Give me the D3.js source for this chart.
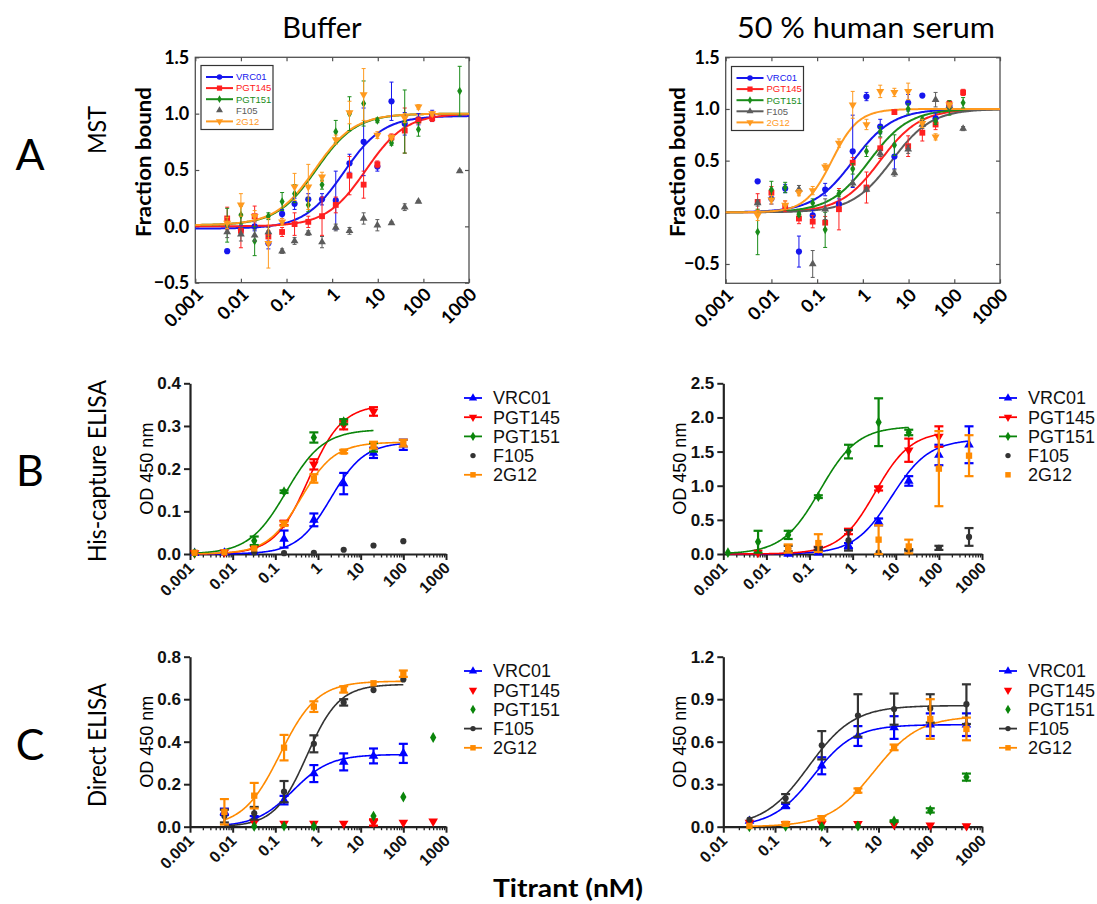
<!DOCTYPE html>
<html lang="en">
<head>
<meta charset="UTF-8">
<title>Env trimer binding - MST and ELISA</title>
<script src="https://d3js.org/d3.v7.min.js"></script>
<style>
  body { margin: 0; background: #fff; }
  svg { display: block; }
</style>
</head>
<body>
<div class="main"></div>
<script>
  // series order used by every panel
  const antibodies = ["VRC01", "PGT145", "PGT151", "F105", "2G12"];

  // ---- A: MST, 2-fold titration (nM) ----
  const mstConc = [0.005, 0.01, 0.02, 0.04, 0.08, 0.15, 0.3, 0.6, 1.2, 2.4, 4.9, 9.8, 20, 39, 78, 156, 313, 625];

  const mstBufMean = [
    [-0.22, -0.03, 0.0, -0.15, 0.11, 0.20, 0.24, 0.24, 0.23, 0.56, 0.75, 0.53, 1.11, 0.91, 0.95, 0.98, null, null],
    [0.07, -0.04, 0.09, -0.09, -0.05, 0.02, 0.04, 0.09, 0.19, 0.45, 0.37, 0.55, 0.79, 0.85, 0.94, 0.96, null, null],
    [0.01, 0.10, -0.13, 0.09, 0.22, 0.29, 0.19, 0.37, 0.84, 1.0, 1.09, 0.94, 0.74, 0.93, 0.86, null, null, 1.2],
    [-0.05, -0.07, -0.08, -0.05, -0.22, -0.13, -0.06, -0.14, -0.01, -0.04, 0.07, 0.01, 0.03, 0.17, 0.22, null, null, 0.49],
    [0.03, 0.19, 0.09, -0.15, 0.04, 0.35, 0.35, 0.44, 0.77, 1.01, 1.17, 0.81, 0.79, 0.96, 1.06, 1.0, null, null]
  ];
  const mstBufErr = [
    [0, 0.04, 0.04, 0.05, 0.04, 0.05, 0.05, 0.05, 0.26, 0.08, 0.3, 0.04, 0.17, 0.1, 0.05, 0.05, null, null],
    [0.1, 0.15, 0.09, 0.05, 0.04, 0.1, 0.05, 0.17, 0.07, 0.17, 0.12, 0.03, 0.03, 0.2, 0.03, 0.03, null, null],
    [0.15, 0.08, 0.13, 0.03, 0.08, 0.08, 0.06, 0.04, 0.1, 0.15, 0.2, 0.02, 0.02, 0.28, 0.06, null, null, 0.22],
    [0.05, 0.06, 0.05, 0.04, 0.02, 0.03, 0.02, 0.05, 0.03, 0.03, 0.05, 0.05, 0.01, 0.03, 0.01, null, null, 0.01],
    [0.05, 0.1, 0.05, 0.22, 0.03, 0.12, 0.2, 0.04, 0.04, 0.1, 0.23, 0.03, 0.02, 0.04, 0.02, 0.02, null, null]
  ];
  // fit: [bottom, top, EC50 nM, hill]
  const mstBufFit = [[-0.02, 0.98, 1.8, 1.0], [0, 1.0, 5.5, 1.0], [0.01, 1.0, 0.45, 1.0], null, [0.01, 1.0, 0.42, 1.0]];

  const mstSerMean = [
    [0.30, 0.13, 0.23, -0.38, -0.03, 0.22, 0.08, 0.59, 1.12, 0.83, 0.54, 1.06, 1.13, 0.91, 1.03, null],
    [0.10, 0.19, 0.06, -0.06, -0.09, -0.10, 0.03, 0.48, 0.24, 0.62, 0.97, 0.64, 0.77, 0.85, 1.05, 1.16],
    [-0.19, 0.22, 0.24, -0.02, 0.09, -0.17, 0.18, 0.42, 0.59, 0.78, 0.65, 1.0, 0.9, 0.88, 1.01, 1.06],
    [0.09, null, null, 0.22, -0.5, 0.03, null, 0.28, 0.22, 0.57, 0.38, 0.61, 0.85, 1.09, 1.03, 0.81],
    [-0.03, 0.12, 0.07, 0.19, 0.21, 0.44, 0.67, 1.04, 0.85, 1.17, 1.16, 1.17, 0.86, 0.73, 1.04, null]
  ];
  const mstSerErr = [
    [0, 0.05, 0.04, 0.15, 0.05, 0.06, 0.05, 0.35, 0.04, 0.07, 0.12, 0.08, 0, 0.05, 0.02, null],
    [0.08, 0.06, 0.05, 0.05, 0.06, 0.06, 0.2, 0.05, 0.15, 0.1, 0.01, 0.1, 0.08, 0.05, 0.03, 0.03],
    [0.22, 0.08, 0.05, 0.02, 0.04, 0.17, 0.03, 0.05, 0.05, 0.05, 0.1, 0.05, 0.03, 0.03, 0.07, 0.05],
    [0.03, null, null, 0.04, 0.13, 0.1, null, 0.03, 0.02, 0.03, 0.03, 0.04, 0.04, 0.07, 0.03, 0.02],
    [0.05, 0.04, 0.04, 0.03, 0.04, 0.03, 0.04, 0.13, 0.05, 0.06, 0.04, 0.08, 0.04, 0.03, 0.02, null]
  ];
  const mstSerFit = [[0, 1.0, 0.62, 1.0], [0, 1.0, 2.4, 1.0], [0, 1.0, 1.4, 1.0], [0, 1.0, 4.3, 1.0], [0, 1.0, 0.21, 1.5]];

  const mstXTicks = [0.001, 0.01, 0.1, 1, 10, 100, 1000];
  const mstYTicks = [-0.5, 0.0, 0.5, 1.0, 1.5];

  // ---- B: His-capture ELISA, 5-fold titration (nM) ----
  const hisBufConc = [0.00128, 0.0064, 0.032, 0.16, 0.8, 4, 20, 100];
  const hisBufMean = [
    [0.002, 0.003, 0.005, 0.035, 0.08, 0.165, 0.237, 0.256],
    [0.002, 0.004, 0.013, 0.073, 0.21, 0.302, 0.334, null],
    [0.002, null, 0.031, 0.146, 0.273, 0.31, 0.25, null],
    [null, null, 0.004, 0.002, 0.003, 0.01, 0.02, 0.03],
    [0.003, 0.004, 0.013, 0.071, 0.177, 0.24, 0.255, 0.26]
  ];
  const hisBufErr = [
    [0, 0, 0, 0.02, 0.015, 0.025, 0.012, 0.012],
    [0, 0, 0, 0.005, 0.012, 0.01, 0.01, null],
    [0, null, 0.01, 0.003, 0.012, 0.006, 0.01, null],
    [null, null, 0, 0, 0, 0, 0, 0],
    [0, 0, 0, 0.005, 0.01, 0.004, 0.008, 0.008]
  ];
  const hisBufFit = [[0, 0.262, 2.0, 1.1], [0, 0.35, 0.6, 1.1], [0, 0.292, 0.18, 1.0], null, [0, 0.262, 0.4, 1.1]];

  const hisSerConc = [0.00128, 0.0064, 0.032, 0.16, 0.8, 4, 20, 100, 500];
  const hisSerMean = [
    [null, null, 0.0, 0.02, 0.12, 0.47, 1.07, 1.45, 1.6],
    [null, 0.02, null, 0.08, 0.33, 0.96, 1.52, 1.72, null],
    [0.02, 0.18, 0.28, 0.84, 1.5, 1.93, 1.78, null, null],
    [null, null, 0.08, 0.08, 0.2, 0.02, 0.06, 0.09, 0.25],
    [null, null, 0.08, 0.16, null, 0.21, 0.11, 1.25, 1.44]
  ];
  const hisSerErr = [
    [null, null, 0, 0, 0.04, 0.05, 0.07, 0.15, 0.27],
    [null, 0, null, 0.02, 0.04, 0.03, 0.17, 0.15, null],
    [0, 0.16, 0.06, 0.02, 0.1, 0.35, 0.04, null, null],
    [null, null, 0.04, 0.02, 0.15, 0, 0.01, 0.03, 0.13],
    [null, null, 0.06, 0.13, null, 0.21, 0.1, 0.55, 0.3]
  ];
  const hisSerFit = [[0, 1.68, 8, 1.0], [0, 1.8, 3.3, 1.05], [0, 1.87, 0.175, 1.0], null, null];

  // ---- C: direct ELISA ----
  const dirBufConc = [0.0064, 0.032, 0.16, 0.8, 4, 20, 100, 500];
  const dirBufMean = [
    [0.07, 0.04, 0.125, 0.25, 0.305, 0.333, 0.345, null],
    [null, 0.02, 0.015, 0.015, 0.015, 0.02, 0.02, 0.025],
    [null, 0.002, 0.003, 0.002, null, 0.05, 0.14, 0.42],
    [0.05, 0.063, 0.165, 0.39, 0.585, 0.643, 0.693, null],
    [0.07, 0.146, 0.372, 0.565, 0.646, 0.675, 0.72, null]
  ];
  const dirBufErr = [
    [0.015, 0.01, 0.02, 0.04, 0.04, 0.035, 0.045, null],
    [null, 0, 0, 0, 0, 0.015, 0, 0],
    [null, 0, 0, 0, null, 0, 0, 0],
    [0.03, 0.03, 0.05, 0.04, 0.015, 0, 0, null],
    [0.06, 0.06, 0.06, 0.025, 0.015, 0, 0.015, null]
  ];
  const dirBufFit = [[0, 0.34, 0.26, 1.0], null, null, [0, 0.67, 0.55, 1.15], [0, 0.685, 0.13, 1.0]];

  const dirSerConc = [0.032, 0.16, 0.8, 4, 20, 100, 500];
  const dirSerMean = [
    [0.04, 0.146, 0.43, 0.64, 0.70, 0.72, 0.72],
    [0.03, 0.02, 0.02, 0.02, 0.015, 0.01, 0.005],
    [0.0, 0.002, 0.002, 0.005, 0.04, 0.115, 0.35],
    [0.05, 0.2, 0.575, 0.785, 0.83, 0.835, 0.865],
    [0.005, 0.02, 0.06, 0.255, 0.56, 0.76, 0.69]
  ];
  const dirSerErr = [
    [0, 0.015, 0.06, 0.07, 0.08, 0.08, 0.08],
    [0, 0, 0, 0, 0, 0, 0],
    [0, 0, 0, 0, 0.005, 0.015, 0.025],
    [0, 0.03, 0.1, 0.15, 0.11, 0.1, 0.14],
    [0, 0.01, 0.015, 0.015, 0.02, 0.14, 0.08]
  ];
  const dirSerFit = [[0, 0.72, 0.55, 1.1], null, null, [0, 0.855, 0.45, 1.0], [0, 0.78, 8.2, 1.0]];

  const elisaXTicks = [0.001, 0.01, 0.1, 1, 10, 100, 1000];
  const dirSerXTicks = [0.01, 0.1, 1, 10, 100, 1000];
  const hisBufYTicks = [0, 0.1, 0.2, 0.3, 0.4];
  const hisSerYTicks = [0, 0.5, 1.0, 1.5, 2.0, 2.5];
  const dirBufYTicks = [0, 0.2, 0.4, 0.6, 0.8];
  const dirSerYTicks = [0, 0.3, 0.6, 0.9, 1.2];

  // ---------------- drawing ----------------
  const svg = d3.select(".main").append("svg")
          .attr("width", 1097)
          .attr("height", 904);

  const mstColors = ["#1616ee", "#ff2020", "#1a8c1a", "#5c5c5c", "#ff9a1f"];
  const mstShapes = ["circle", "square", "diamond", "up", "down"];
  const mstSizes = [30, 34, 22, 26, 28];
  const elisaColors = ["#0000ff", "#ff0000", "#0a850a", "#333333", "#ff8a00"];
  const elisaShapes = ["up", "down", "diamond", "circle", "square"];
  const elisaSizes = [40, 40, 34, 30, 40];

  const symbolTypes = {circle: d3.symbolCircle, square: d3.symbolSquare, diamond: d3.symbolDiamond, up: d3.symbolTriangle, down: d3.symbolTriangle};

  function marker(g, shape, size, color, cx, cy) {
    g.append("path")
            .attr("d", d3.symbol().type(symbolTypes[shape]).size(size)())
            .attr("transform", "translate(" + cx + "," + cy + ")" + (shape == "down" ? " rotate(180)" : ""))
            .attr("fill", color);
  }

  function hill(f, c) {
    return f[0] + (f[1] - f[0]) / (1 + Math.pow(f[2] / c, f[3]));
  }

  function fitPath(x, y, f, lo, hi) {
    let pts = d3.range(0, 241).map(i => lo * Math.pow(hi / lo, i / 240));
    return d3.line().x(c => x(c)).y(c => y(hill(f, c)))(pts);
  }

  function errBar(g, x0, yLo, yHi, cap, color, sw) {
    g.append("line").attr("x1", x0).attr("x2", x0).attr("y1", yLo).attr("y2", yHi)
            .attr("stroke", color).attr("stroke-width", sw);
    [yLo, yHi].forEach(v => {
      g.append("line").attr("x1", x0 - cap / 2).attr("x2", x0 + cap / 2).attr("y1", v).attr("y2", v)
              .attr("stroke", color).attr("stroke-width", sw);
    });
  }

  const tickText = d => d >= 1 ? d3.format("d")(d) : String(d);

  // MST panel: boxed, inward ticks
  function drawMst(p) {
    let x = d3.scaleLog().domain([0.001, 1000]).range(p.xr);
    let y = d3.scaleLinear().domain(p.yd).range(p.yr);
    let g = svg.append("g");

    g.append("rect").attr("x", p.xr[0]).attr("y", p.yr[1])
            .attr("width", p.xr[1] - p.xr[0]).attr("height", p.yr[0] - p.yr[1])
            .attr("fill", "none").attr("stroke", "#505050").attr("stroke-width", 1.3);

    let axes = [
      [d3.axisBottom(x).tickValues(mstXTicks), "translate(0," + p.yr[0] + ")"],
      [d3.axisTop(x).tickValues(mstXTicks), "translate(0," + p.yr[1] + ")"],
      [d3.axisLeft(y).tickValues(mstYTicks), "translate(" + p.xr[0] + ",0)"],
      [d3.axisRight(y).tickValues(mstYTicks), "translate(" + p.xr[1] + ",0)"]
    ];
    axes.forEach(a => {
      let ag = g.append("g").attr("transform", a[1])
              .call(a[0].tickSizeInner(-4).tickSizeOuter(0).tickFormat(""));
      ag.select(".domain").remove();
      ag.selectAll("line").attr("stroke", "#505050").attr("stroke-width", 1.2);
    });

    g.selectAll(null).data(mstYTicks).join("text")
            .attr("x", p.xr[0] - 6).attr("y", d => y(d)).attr("dy", "0.36em")
            .attr("text-anchor", "end")
            .style("font-family", "Lato, 'DejaVu Sans', sans-serif").style("font-weight", "bold").style("font-size", "18px")
            .text(d => d3.format(".1f")(d));

    g.selectAll(null).data(mstXTicks).join("text")
            .attr("text-anchor", "end")
            .attr("transform", d => "translate(" + (x(d) + 9) + "," + (p.yr[0] + 13) + ") rotate(-45)")
            .style("font-family", "Lato, 'DejaVu Sans', sans-serif").style("font-weight", "bold").style("font-size", "18px")
            .text(tickText);

    g.append("text")
            .attr("transform", "translate(" + p.labelX + ",162) rotate(-90)")
            .attr("text-anchor", "middle")
            .attr("textLength", 150).attr("lengthAdjust", "spacingAndGlyphs")
            .style("font-family", "Lato, 'DejaVu Sans', sans-serif").style("font-weight", "bold").style("font-size", "20px")
            .text("Fraction bound");

    // fitted curves
    p.fit.forEach((f, s) => {
      if (!f) return;
      g.append("path").attr("d", fitPath(x, y, f, 0.001, 1000))
              .attr("fill", "none").attr("stroke", mstColors[s]).attr("stroke-width", 2);
    });

    // points
    p.mean.forEach((vals, s) => {
      vals.forEach((v, i) => {
        if (v === null) return;
        let e = p.err[s][i];
        let cx = x(mstConc[i]);
        if (e > 0) errBar(g, cx, y(v - e), y(v + e), 4, mstColors[s], 1);
        marker(g, mstShapes[s], mstSizes[s], mstColors[s], cx, y(v));
      });
    });

    // legend box
    let lg = g.append("g").attr("transform", "translate(" + p.legend[0] + "," + p.legend[1] + ")");
    lg.append("rect").attr("width", 72).attr("height", 64)
            .attr("fill", "#fff").attr("stroke", "#333").attr("stroke-width", 1.2);
    antibodies.forEach((name, s) => {
      let ry = 11.5 + s * 11.1;
      if (p.fit[s]) {
        lg.append("line").attr("x1", 5).attr("x2", 32).attr("y1", ry).attr("y2", ry)
                .attr("stroke", mstColors[s]).attr("stroke-width", 2);
      }
      marker(lg, mstShapes[s], mstSizes[s] * 0.8, mstColors[s], 18.5, ry);
      lg.append("text").attr("x", 35).attr("y", ry).attr("dy", "0.35em")
              .attr("fill", mstColors[s])
              .style("font-family", "'Liberation Sans', Arial, sans-serif").style("font-size", "9.5px")
              .text(name);
    });
  }

  // ELISA panel: Prism style, left and bottom axes only
  function drawElisa(p) {
    let x = d3.scaleLog().domain(p.xd).range(p.xr);
    let y = d3.scaleLinear().domain(p.yd).range(p.yr);
    let g = svg.append("g");

    let minors = [];
    for (let dec = p.xd[0]; dec < p.xd[1]; dec *= 10) {
      for (let k = 2; k <= 9; k++) minors.push(dec * k);
    }

    let xg = g.append("g").attr("transform", "translate(0," + p.yr[0] + ")");
    xg.append("g").call(d3.axisBottom(x).tickValues(minors).tickSize(3.5).tickSizeOuter(0).tickFormat(""))
            .call(a => a.select(".domain").remove())
            .selectAll("line").attr("stroke", "#222").attr("stroke-width", 1.3);
    xg.append("g").call(d3.axisBottom(x).tickValues(p.xTicks).tickSize(6).tickSizeOuter(0).tickFormat(""))
            .call(a => a.select(".domain").attr("stroke", "#222").attr("stroke-width", 2.2))
            .selectAll("line").attr("stroke", "#222").attr("stroke-width", 2);

    let yg = g.append("g").attr("transform", "translate(" + p.xr[0] + ",0)")
            .call(d3.axisLeft(y).tickValues(p.yTicks).tickSize(6).tickSizeOuter(0).tickPadding(3)
                    .tickFormat(d3.format(".1f")));
    yg.select(".domain").attr("stroke", "#222").attr("stroke-width", 2.2);
    yg.selectAll("line").attr("stroke", "#222").attr("stroke-width", 2);
    yg.selectAll("text").attr("fill", "#111")
            .style("font-family", "'Liberation Sans', Arial, sans-serif").style("font-weight", "bold").style("font-size", "17px");

    g.selectAll(null).data(p.xTicks).join("text")
            .attr("text-anchor", "end")
            .attr("transform", d => "translate(" + (x(d) + 5) + "," + (p.yr[0] + 15) + ") rotate(-45)")
            .attr("fill", "#111")
            .style("font-family", "'Liberation Sans', Arial, sans-serif").style("font-weight", "bold").style("font-size", "16px")
            .text(tickText);

    g.append("text")
            .attr("transform", "translate(" + (p.xr[0] - 37) + "," + ((p.yr[0] + p.yr[1]) / 2) + ") rotate(-90)")
            .attr("text-anchor", "middle")
            .style("font-family", "'Liberation Sans', Arial, sans-serif").style("font-size", "18px")
            .text("OD 450 nm");

    // fitted curves over each series' titration range
    p.fit.forEach((f, s) => {
      if (!f) return;
      let last = d3.max(p.conc.filter((c, i) => p.mean[s][i] !== null));
      g.append("path").attr("d", fitPath(x, y, f, p.conc[0], last))
              .attr("fill", "none").attr("stroke", elisaColors[s]).attr("stroke-width", 1.6);
    });

    p.mean.forEach((vals, s) => {
      vals.forEach((v, i) => {
        if (v === null) return;
        let e = p.err[s][i];
        let cx = x(p.conc[i]);
        if (e > 0) errBar(g, cx, y(Math.max(v - e, 0)), y(v + e), 9, elisaColors[s], 2.2);
        marker(g, elisaShapes[s], elisaSizes[s], elisaColors[s], cx, y(v));
      });
    });

    // legend
    let lx = p.legendX;
    antibodies.forEach((name, s) => {
      let ry = p.legendY + s * 19.2;
      if (p.fit[s]) {
        g.append("line").attr("x1", lx).attr("x2", lx + 18).attr("y1", ry).attr("y2", ry)
                .attr("stroke", elisaColors[s]).attr("stroke-width", 1.8);
      }
      marker(g, elisaShapes[s], elisaSizes[s] * 0.75, elisaColors[s], lx + 9, ry);
      g.append("text").attr("x", lx + 29).attr("y", ry).attr("dy", "0.36em")
              .attr("fill", "#111")
              .style("font-family", "'Liberation Sans', Arial, sans-serif").style("font-size", "18px")
              .text(name);
    });
  }

  drawMst({mean: mstBufMean, err: mstBufErr, fit: mstBufFit, xr: [195.3, 469], yd: [-0.5, 1.5], yr: [282.7, 57.3], labelX: 151, legend: [201, 65.5]});
  drawMst({mean: mstSerMean, err: mstSerErr, fit: mstSerFit, xr: [725.7, 1000], yd: [-0.687, 1.5], yr: [283.3, 57.3], labelX: 685, legend: [731.5, 66.5]});

  drawElisa({conc: hisBufConc, mean: hisBufMean, err: hisBufErr, fit: hisBufFit, xd: [0.001, 1000], xr: [190, 446],
    yd: [0, 0.4], yr: [554, 383.3], xTicks: elisaXTicks, yTicks: hisBufYTicks, legendX: 464, legendY: 398});
  drawElisa({conc: hisSerConc, mean: hisSerMean, err: hisSerErr, fit: hisSerFit, xd: [0.001, 1000], xr: [723.3, 982],
    yd: [0, 2.5], yr: [554, 383.3], xTicks: elisaXTicks, yTicks: hisSerYTicks, legendX: 999, legendY: 398});
  drawElisa({conc: dirBufConc, mean: dirBufMean, err: dirBufErr, fit: dirBufFit, xd: [0.001, 1000], xr: [190, 446],
    yd: [0, 0.8], yr: [826.7, 656.7], xTicks: elisaXTicks, yTicks: dirBufYTicks, legendX: 464, legendY: 671});
  drawElisa({conc: dirSerConc, mean: dirSerMean, err: dirSerErr, fit: dirSerFit, xd: [0.01, 1000], xr: [723.3, 982],
    yd: [0, 1.2], yr: [826.7, 656.7], xTicks: dirSerXTicks, yTicks: dirSerYTicks, legendX: 999, legendY: 671});

  // titles and row labels
  const lato = "Lato, 'DejaVu Sans', sans-serif";
  svg.append("text").attr("x", 322).attr("y", 38).attr("text-anchor", "middle")
          .style("font-family", lato).style("font-size", "29px").text("Buffer");
  svg.append("text").attr("x", 866).attr("y", 38).attr("text-anchor", "middle")
          .attr("textLength", 258).attr("lengthAdjust", "spacingAndGlyphs")
          .style("font-family", lato).style("font-size", "29px").text("50 % human serum");

  const rowLetters = [["A", 170], ["B", 486], ["C", 760]];
  rowLetters.forEach(r => {
    svg.append("text").attr("x", 30).attr("y", r[1]).attr("text-anchor", "middle")
            .style("font-family", lato).style("font-size", "43px").text(r[0]);
  });
  const rowNames = [["MST", 130, 48], ["His-capture ELISA", 471, 182], ["Direct ELISA", 745, 124]];
  rowNames.forEach(r => {
    svg.append("text").attr("transform", "translate(106," + r[1] + ") rotate(-90)")
            .attr("text-anchor", "middle")
            .attr("textLength", r[2]).attr("lengthAdjust", "spacingAndGlyphs")
            .style("font-family", lato).style("font-size", "25px").text(r[0]);
  });

  svg.append("text").attr("x", 568).attr("y", 897).attr("text-anchor", "middle")
          .attr("textLength", 150).attr("lengthAdjust", "spacingAndGlyphs")
          .style("font-family", lato).style("font-weight", "bold").style("font-size", "25px")
          .text("Titrant (nM)");
</script>
</body>
</html>
